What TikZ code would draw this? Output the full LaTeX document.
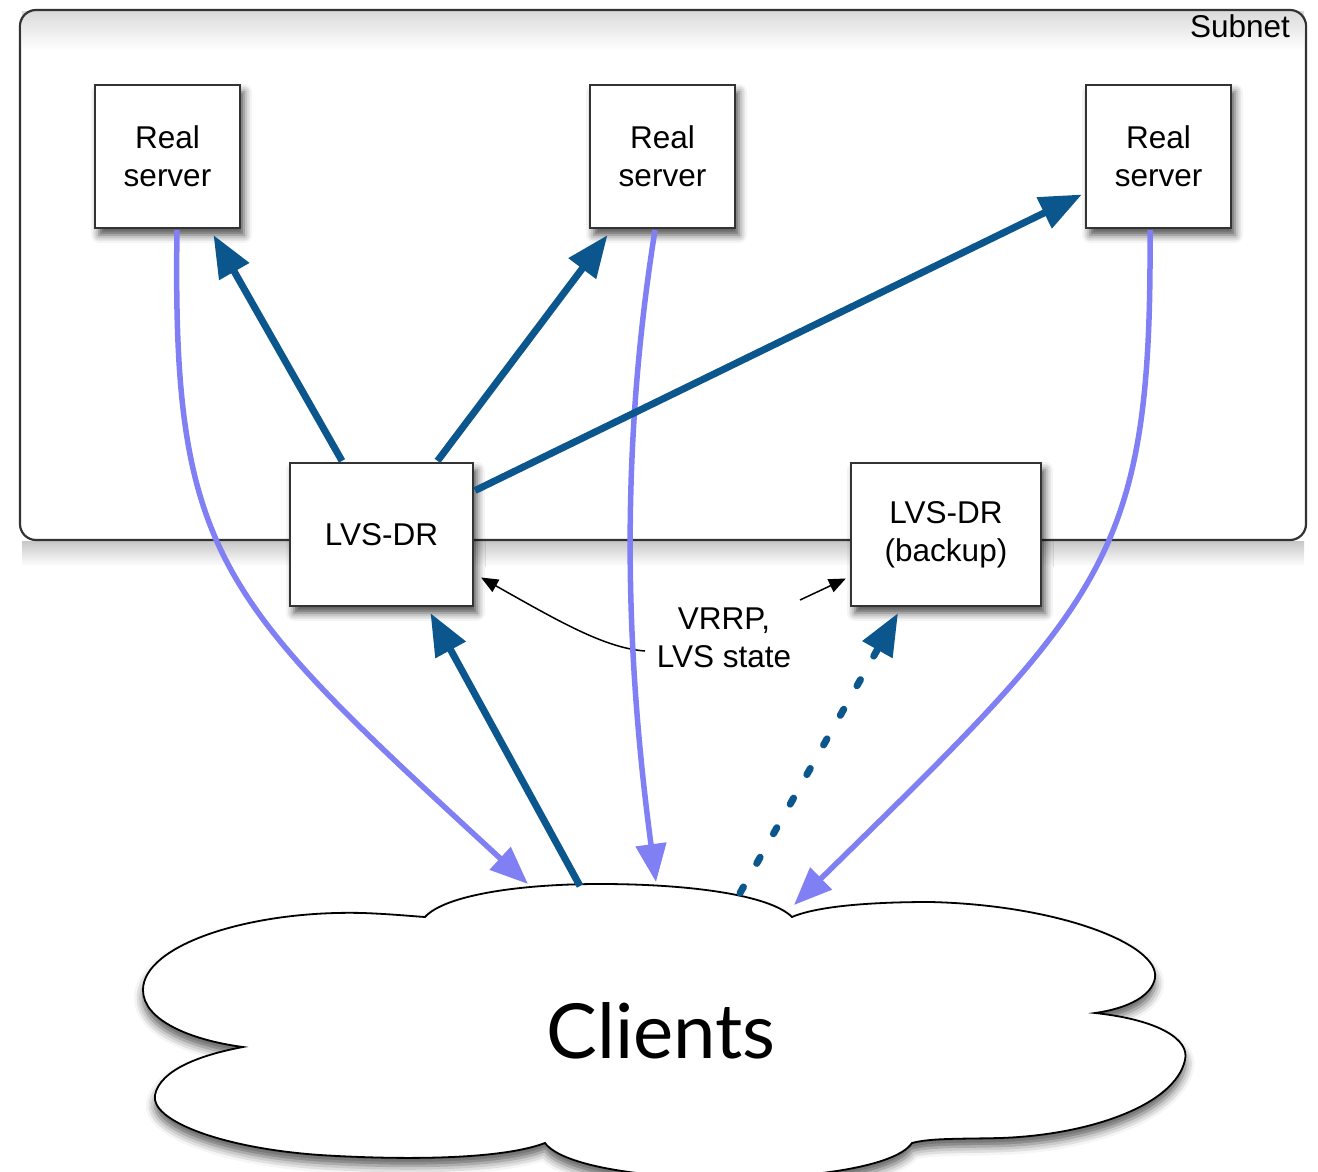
\documentclass[tikz,border=0pt]{standalone}
\usepackage{fontspec}
\setmainfont{Liberation Sans}
\newfontfamily\cloudfont{Lato}
\usetikzlibrary{arrows.meta,calc,shadows.blur}
\definecolor{flowblue}{HTML}{0B568C}
\definecolor{replyviolet}{HTML}{8080F4}
\definecolor{framegray}{HTML}{333333}
\tikzset{
  labelfont/.style={font=\fontsize{31.5}{38}\selectfont},
  hostbox/.style={draw=framegray, line width=2.2pt, fill=white,
    minimum width=145pt, minimum height=143pt, inner sep=0pt,
    align=center, labelfont,
    blur shadow={shadow xshift=4pt, shadow yshift=-7pt,
      shadow blur radius=8pt, shadow opacity=70}},
  request/.style={draw=flowblue, line width=7pt,
    -{Triangle[length=42pt,width=33pt]}},
  reply/.style={draw=replyviolet, line width=5.5pt,
    -{Triangle[length=38pt,width=30pt]}},
  sync/.style={draw=black, line width=1.5pt,
    -{Triangle[length=17pt,width=14pt]}},
}
\begin{document}
\begin{tikzpicture}[x=1pt,y=-1pt]
\useasboundingbox (0,0) rectangle (1318,1172);

% subnet frame with soft shading along its top and below its bottom edge
\shade[top color=black!14, bottom color=white]
      (22,12) rectangle (1304,50);
\shade[top color=black!22, bottom color=white]
      (22,541) rectangle (1304,566);
\node[draw=framegray, line width=2.2pt, rounded corners=16pt,
      minimum width=1286pt, minimum height=530pt, inner sep=0pt]
      (subnet) at (663,275) {};
\node[labelfont] (subnetlabel) at (1240,26) {Subnet};

% hosts
\node[hostbox] (rs1) at (167.5,156.5) {Real\\server};
\node[hostbox] (rs2) at (662.5,156.5) {Real\\server};
\node[hostbox] (rs3) at (1158.5,156.5) {Real\\server};
\node[hostbox, minimum width=183pt] (lvs) at (381.5,534.5) {LVS-DR};
\node[hostbox, minimum width=190pt] (bak) at (946,534.5) {LVS-DR\\(backup)};

% clients cloud
\path[draw=black, line width=1.8pt, fill=white,
      blur shadow={shadow xshift=0pt, shadow yshift=-8pt,
        shadow blur radius=9pt, shadow opacity=65}]
  (425,917) .. controls (445,895) and (520,884) .. (600,884)
  .. controls (690,884) and (770,895) .. (792,917)
  .. controls (820,905) and (880,902) .. (930,902)
  .. controls (1060,905) and (1160,945) .. (1155,978)
  .. controls (1152,995) and (1130,1008) .. (1095,1013)
  .. controls (1160,1020) and (1190,1040) .. (1185,1060)
  .. controls (1175,1105) and (1090,1135) .. (1000,1138)
  .. controls (960,1139) and (930,1138) .. (912,1143)
  .. controls (880,1190) and (580,1190) .. (545,1143)
  .. controls (500,1160) and (400,1160) .. (320,1155)
  .. controls (220,1148) and (150,1120) .. (155,1095)
  .. controls (160,1070) and (200,1055) .. (243,1047)
  .. controls (190,1040) and (143,1020) .. (143,990)
  .. controls (143,945) and (250,910) .. (363,913)
  .. controls (390,914) and (410,916) .. (425,917) -- cycle;
\node[font=\cloudfont\fontsize{76}{80}\selectfont] (clients) at (661,1031) {Clients};

% points where the links meet the cloud
\coordinate (inA) at (528,884);
\coordinate (outA) at (580,886);
\coordinate (inB) at (656,882);
\coordinate (outB) at (740,893);
\coordinate (inC) at (794,905);

% label for the VRRP exchange
\node[labelfont, align=center] (vrrp) at (724,638) {VRRP,\\LVS state};
\coordinate (vrrpL) at (645,651);
\coordinate (vrrpR) at (800,600);

% state sync between directors
\draw[sync] (vrrpL) .. controls (605,648) and (560,622) .. ($(lvs.east)+(7,43)$);
\draw[sync] (vrrpR) -- ($(bak.west)+(-4,44)$);
% replies straight from the real servers to the clients
\draw[reply] ($(rs1.south)+(9.5,1)$) .. controls (172,560) and (220,600) .. (inA);
\draw[reply] ($(rs2.south)+(-7.5,1)$) .. controls (620,450) and (625,650) .. (inB);
\draw[reply] ($(rs3.south)+(-8.5,1)$) .. controls (1152,560) and (1105,600) .. (inC);
% requests forwarded by the director
\draw[request] ($(lvs.north)+(-39.5,-1)$) -- ($(rs1.south)+(46,6)$);
\draw[request] ($(lvs.north)+(56,-1)$) -- ($(rs2.south)+(-55,6)$);
\draw[request] ($(lvs.east)+(1,-44)$) -- ($(rs3.west)+(-3,38)$);
\draw[request] (outA) -- ($(lvs.south)+(49,6)$);
\draw[request, line cap=round, dash pattern=on 7pt off 27pt] (outB) -- ($(bak.south)+(-48,6)$);
\end{tikzpicture}
\end{document}
